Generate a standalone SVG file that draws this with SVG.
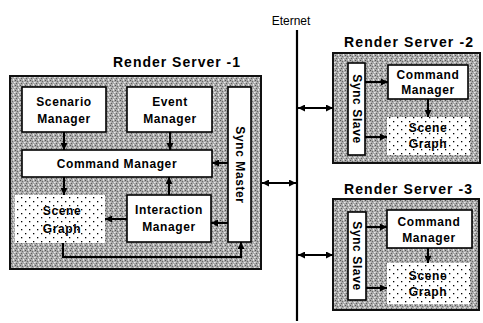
<svg xmlns="http://www.w3.org/2000/svg" width="483" height="323" viewBox="0 0 483 323">
<defs>
  <pattern id="stip" width="5" height="5" patternUnits="userSpaceOnUse">
    <rect width="5" height="5" fill="#a9a9a9"/>
    <rect x="0" y="0" width="1" height="1" fill="#555"/>
    <rect x="2" y="1" width="1" height="1" fill="#6c6c6c"/>
    <rect x="4" y="2" width="1" height="1" fill="#e8e8e8"/>
    <rect x="1" y="3" width="1" height="1" fill="#606060"/>
    <rect x="3" y="4" width="1" height="1" fill="#efefef"/>
    <rect x="3" y="0" width="1" height="1" fill="#d6d6d6"/>
    <rect x="0" y="2" width="1" height="1" fill="#cfcfcf"/>
  </pattern>
  <pattern id="dots" width="8" height="8" patternUnits="userSpaceOnUse">
    <rect width="8" height="8" fill="#fff"/>
    <rect x="1" y="1" width="1.3" height="1.3" fill="#000"/>
    <rect x="5" y="5" width="1.3" height="1.3" fill="#000"/>
  </pattern>
  <marker id="arr" markerUnits="userSpaceOnUse" markerWidth="7" markerHeight="7" refX="7" refY="3.5" orient="auto-start-reverse">
    <path d="M0,0 L7,3.5 L0,7 z" fill="#000"/>
  </marker>
  <style>
    .srv{fill:url(#stip);stroke:#111;stroke-width:2}
    .box{fill:#fff;stroke:#000;stroke-width:1.6}
    .sg{fill:url(#dots)}
    .lbl{font-family:"Liberation Sans",Arial,sans-serif;font-size:12px;font-weight:bold;fill:#000;letter-spacing:0.6px;text-anchor:middle}
    .ttl{font-family:"Liberation Sans",Arial,sans-serif;font-size:14px;font-weight:bold;fill:#000}
    .eth{font-family:"Liberation Sans",Arial,sans-serif;font-size:12px;fill:#000;text-anchor:middle}
    .ca{fill:none;stroke:#000;stroke-width:2;marker-end:url(#arr)}
    .cb{fill:none;stroke:#000;stroke-width:2;marker-start:url(#arr);marker-end:url(#arr)}
  </style>
</defs>

<g id="ethernet">
  <text class="eth" x="291" y="25">Eternet</text>
  <line x1="297" y1="30" x2="297" y2="321" stroke="#000" stroke-width="2.2"/>
</g>

<g id="server1">
  <text class="ttl" x="113" y="67" textLength="127" lengthAdjust="spacing">Render Server -1</text>
  <rect class="srv" x="10" y="76" width="251" height="193"/>
</g>
<g id="scenario-manager">
  <rect class="box" x="22" y="87" width="84" height="45"/>
  <text class="lbl" x="64" y="106">Scenario</text>
  <text class="lbl" x="64" y="123">Manager</text>
</g>
<g id="event-manager">
  <rect class="box" x="127" y="87" width="85" height="45"/>
  <text class="lbl" x="170" y="106">Event</text>
  <text class="lbl" x="170" y="123">Manager</text>
</g>
<g id="command-manager-1">
  <rect class="box" x="22" y="150" width="190" height="27"/>
  <text class="lbl" x="117" y="168">Command Manager</text>
</g>
<g id="scene-graph-1">
  <rect class="sg" x="15" y="195" width="90" height="48"/>
  <text class="lbl" x="62" y="215">Scene</text>
  <text class="lbl" x="62" y="233">Graph</text>
</g>
<g id="interaction-manager">
  <rect class="box" x="127" y="195" width="84" height="47"/>
  <text class="lbl" x="169" y="214">Interaction</text>
  <text class="lbl" x="169" y="231">Manager</text>
</g>
<g id="sync-master">
  <rect class="box" x="228" y="87" width="23" height="155"/>
  <text class="lbl" transform="translate(239.5,165) rotate(90)" x="0" y="4">Sync Master</text>
</g>

<g id="server2">
  <text class="ttl" x="344" y="47" textLength="129" lengthAdjust="spacing">Render Server -2</text>
  <rect class="srv" x="333" y="53" width="147" height="110"/>
</g>
<g id="sync-slave-2">
  <rect class="box" x="348" y="63" width="17" height="92"/>
  <text class="lbl" transform="translate(356.5,109) rotate(90)" x="0" y="4">Sync Slave</text>
</g>
<g id="command-manager-2">
  <rect class="box" x="388" y="65" width="80" height="34"/>
  <text class="lbl" x="428" y="79">Command</text>
  <text class="lbl" x="428" y="94">Manager</text>
</g>
<g id="scene-graph-2">
  <rect class="sg" x="387" y="117" width="83" height="38"/>
  <text class="lbl" x="428" y="132">Scene</text>
  <text class="lbl" x="428" y="148">Graph</text>
</g>

<g id="server3">
  <text class="ttl" x="344" y="194" textLength="128" lengthAdjust="spacing">Render Server -3</text>
  <rect class="srv" x="333" y="199" width="146" height="111"/>
</g>
<g id="sync-slave-3">
  <rect class="box" x="348" y="212" width="18" height="88"/>
  <text class="lbl" transform="translate(357,256) rotate(90)" x="0" y="4">Sync Slave</text>
</g>
<g id="command-manager-3">
  <rect class="box" x="387" y="210" width="85" height="38"/>
  <text class="lbl" x="429" y="226">Command</text>
  <text class="lbl" x="429" y="242">Manager</text>
</g>
<g id="scene-graph-3">
  <rect class="sg" x="387" y="263" width="83" height="41"/>
  <text class="lbl" x="428" y="280">Scene</text>
  <text class="lbl" x="428" y="296">Graph</text>
</g>

<g id="connectors">
  <line class="ca" x1="64" y1="132" x2="64" y2="150"/>
  <line class="ca" x1="170" y1="132" x2="170" y2="150"/>
  <line class="ca" x1="64" y1="177" x2="64" y2="195"/>
  <line class="ca" x1="169" y1="195" x2="169" y2="177"/>
  <line class="ca" x1="127" y1="219" x2="105" y2="219"/>
  <line class="ca" x1="228" y1="163" x2="212" y2="163"/>
  <line class="ca" x1="228" y1="223" x2="211" y2="223"/>
  <polyline class="ca" points="63,243 63,257 241,257 241,242"/>
  <line class="cb" x1="262" y1="183" x2="296" y2="183"/>
  <line class="cb" x1="298" y1="108" x2="333" y2="108"/>
  <line class="cb" x1="298" y1="255" x2="333" y2="255"/>
  <line class="ca" x1="365" y1="82" x2="388" y2="82"/>
  <line class="ca" x1="428" y1="99" x2="428" y2="117"/>
  <line class="ca" x1="365" y1="137" x2="387" y2="137"/>
  <line class="ca" x1="366" y1="227" x2="387" y2="227"/>
  <line class="ca" x1="428" y1="248" x2="428" y2="263"/>
  <line class="ca" x1="366" y1="288" x2="387" y2="288"/>
</g>
</svg>
